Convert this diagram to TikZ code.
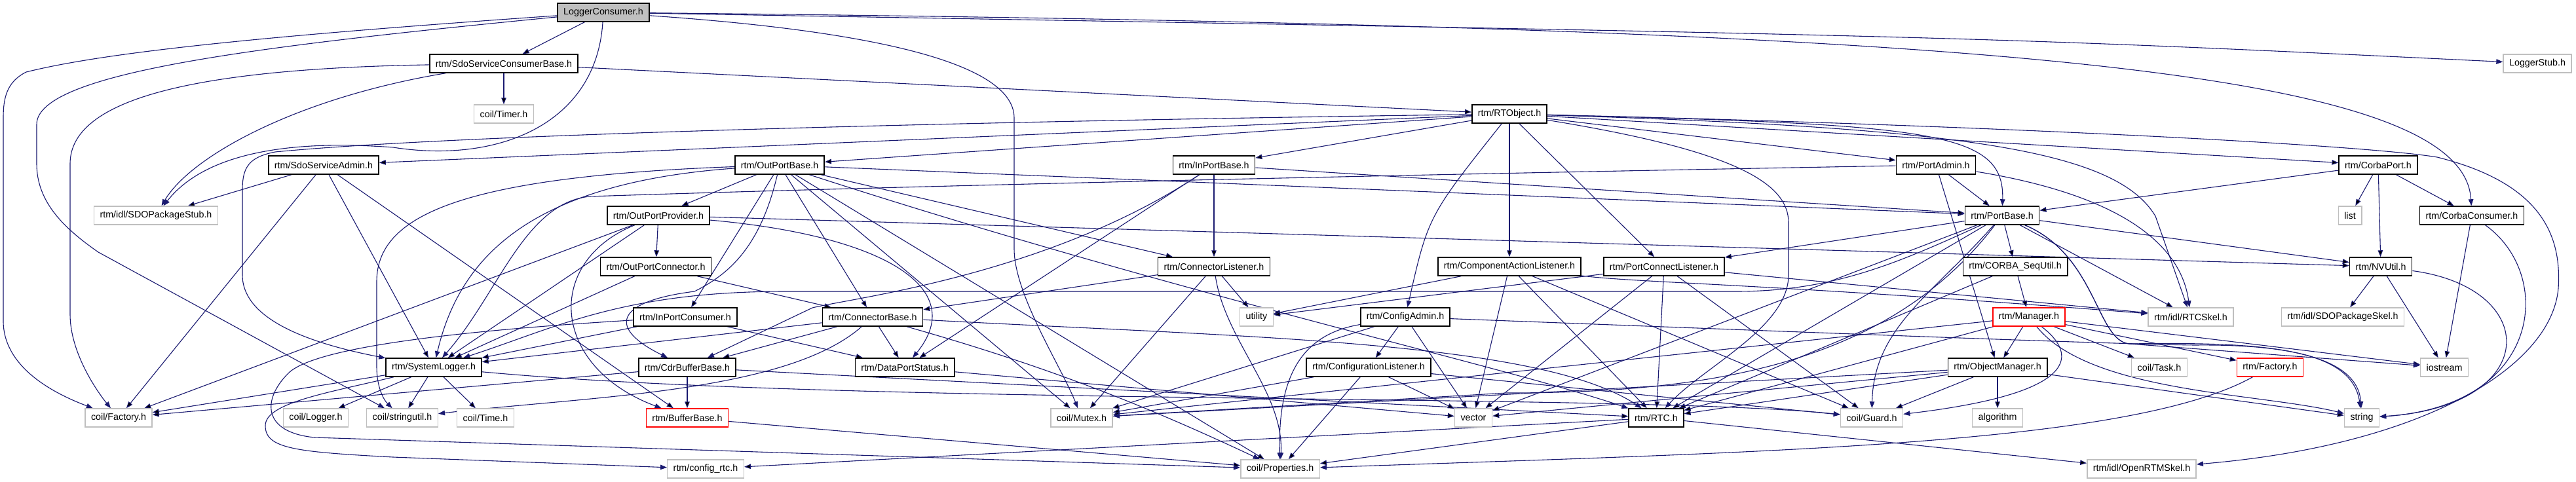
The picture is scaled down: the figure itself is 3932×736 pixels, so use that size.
\documentclass[tikz,border=0pt]{standalone}
\usepackage{fontspec}
\setmainfont{Liberation Sans}
\usetikzlibrary{arrows.meta}

\definecolor{depblue}{RGB}{25,25,112}
\definecolor{extgray}{RGB}{191,191,191}

\pgfdeclarelayer{edges}
\pgfsetlayers{edges,main}

\tikzset{
    header/.style={draw=black, line width=1.5pt, fill=white, minimum height=28pt,
        inner xsep=9pt, inner ysep=0pt, font=\fontsize{14.3}{17}\selectfont},
    external/.style={header, draw=extgray},
    undoc/.style={header, draw=red},
    root/.style={header, fill=extgray},
    dep/.style={draw=depblue, line width=1.1pt, -{Triangle[length=10pt,width=7.5pt]}},
}

\begin{document}
\begin{tikzpicture}[x=1pt, y=1pt]
    \useasboundingbox (0,0) rectangle (3932,-736);

    \node[root] (lc) at (921,-19) {LoggerConsumer.h};
    \node[header] (sscb) at (769,-97) {rtm/SdoServiceConsumerBase.h};
    \node[external] (lstub) at (3873,-97) {LoggerStub.h};
    \node[external] (timer) at (769,-174) {coil/Timer.h};
    \node[header] (rto) at (2304,-174) {rtm/RTObject.h};
    \node[header] (ssa) at (494,-252) {rtm/SdoServiceAdmin.h};
    \node[header] (opb) at (1190,-252) {rtm/OutPortBase.h};
    \node[header] (ipb) at (1853,-252) {rtm/InPortBase.h};
    \node[header] (padm) at (2955,-252) {rtm/PortAdmin.h};
    \node[header] (cport) at (3630,-252) {rtm/CorbaPort.h};
    \node[external] (sdostub) at (238,-329) {rtm/idl/SDOPackageStub.h};
    \node[header] (opp) at (1005,-329) {rtm/OutPortProvider.h};
    \node[header] (pbase) at (3056,-329) {rtm/PortBase.h};
    \node[external] (list) at (3587,-329) {list};
    \node[header] (ccons) at (3773,-329) {rtm/CorbaConsumer.h};
    \node[header] (opc) at (1001,-407) {rtm/OutPortConnector.h};
    \node[header] (cl) at (1853,-407) {rtm/ConnectorListener.h};
    \node[header] (cal) at (2304,-407) {rtm/ComponentActionListener.h};
    \node[header] (pcl) at (2540,-407) {rtm/PortConnectListener.h};
    \node[header] (csu) at (3076,-407) {rtm/CORBA\_SeqUtil.h};
    \node[header] (nvu) at (3634,-407) {rtm/NVUtil.h};
    \node[header] (ipc) at (1046,-484) {rtm/InPortConsumer.h};
    \node[header] (cbase) at (1332,-484) {rtm/ConnectorBase.h};
    \node[external] (util) at (1918,-484) {utility};
    \node[header] (cadm) at (2145,-484) {rtm/ConfigAdmin.h};
    \node[undoc] (mgr) at (3097,-484) {rtm/Manager.h};
    \node[external] (rtcskel) at (3344,-484) {rtm/idl/RTCSkel.h};
    \node[external] (sdoskel) at (3576,-484) {rtm/idl/SDOPackageSkel.h};
    \node[header] (slog) at (662,-561) {rtm/SystemLogger.h};
    \node[header] (cdr) at (1049,-561) {rtm/CdrBufferBase.h};
    \node[header] (dps) at (1381,-561) {rtm/DataPortStatus.h};
    \node[header] (cfl) at (2089,-561) {rtm/ConfigurationListener.h};
    \node[header] (omgr) at (3049,-561) {rtm/ObjectManager.h};
    \node[external] (task) at (3296,-561) {coil/Task.h};
    \node[undoc] (rfac) at (3465,-561) {rtm/Factory.h};
    \node[external] (ios) at (3731,-561) {iostream};
    \node[external] (cfac) at (181,-638) {coil/Factory.h};
    \node[external] (clog) at (482,-638) {coil/Logger.h};
    \node[external] (sutil) at (614,-638) {coil/stringutil.h};
    \node[external] (ctime) at (741,-638) {coil/Time.h};
    \node[undoc] (bbase) at (1049,-638) {rtm/BufferBase.h};
    \node[external] (mutex) at (1651,-638) {coil/Mutex.h};
    \node[external] (vec) at (2249,-638) {vector};
    \node[header] (rtc) at (2528,-638) {rtm/RTC.h};
    \node[external] (guard) at (2857,-638) {coil/Guard.h};
    \node[external] (algo) at (3049,-638) {algorithm};
    \node[external] (str) at (3605,-638) {string};
    \node[external] (crtc) at (1077,-716) {rtm/config\_rtc.h};
    \node[external] (prop) at (1954,-716) {coil/Properties.h};
    \node[external] (orskel) at (3269,-716) {rtm/idl/OpenRTMSkel.h};

    \begin{pgfonlayer}{edges}
    \draw[dep]
        (lc) edge (sscb)
        (sscb) edge (timer)
        (sscb) edge (rto)
        (rto) edge (ssa)
        (rto) edge (opb)
        (rto) edge (ipb)
        (rto) edge (padm)
        (rto) edge (cport)
        (rto) edge (cal)
        (rto) edge (pcl)
        (ssa) edge (sdostub)
        (ssa) edge (cfac)
        (ssa) edge (slog)
        (ssa) edge (bbase)
        (opb) edge (opp)
        (opb) edge (ipc)
        (opb) edge (cbase)
        (opb) edge (cl)
        (opb) edge (pbase)
        (opb) edge (prop)
        (opb) edge (mutex)
        (ipb) edge (pbase)
        (ipb) edge (dps)
        (ipb) edge (cl)
        (padm) edge (pbase)
        (padm) edge (omgr)
        (cport) edge (pbase)
        (cport) edge (list)
        (cport) edge (ccons)
        (cport) edge (nvu)
        (opp) edge (opc)
        (opp) edge (cfac)
        (opp) edge (slog)
        (opp) edge (nvu)
        (opc) edge (slog)
        (opc) edge (cbase)
        (ipc) edge (slog)
        (ipc) edge (dps)
        (cbase) edge (slog)
        (cbase) edge (cdr)
        (cbase) edge (dps)
        (cdr) edge (bbase)
        (cdr) edge (cfac)
        (cdr) edge (rtc)
        (bbase) edge (prop)
        (dps) edge (vec)
        (cl) edge (cbase)
        (cl) edge (mutex)
        (cl) edge (util)
        (cal) edge (util)
        (cal) edge (vec)
        (cal) edge (rtc)
        (cal) edge (guard)
        (pcl) edge (util)
        (pcl) edge (vec)
        (pcl) edge (rtc)
        (pcl) edge (guard)
        (pcl) edge (rtcskel)
        (pbase) edge (pcl)
        (pbase) edge (csu)
        (pbase) edge (nvu)
        (pbase) edge (rtcskel)
        (pbase) edge (rtc)
        (pbase) edge (vec)
        (csu) edge (mgr)
        (csu) edge (rtc)
        (nvu) edge (sdoskel)
        (nvu) edge (ios)
        (ccons) edge (ios)
        (cadm) edge (cfl)
        (cadm) edge (vec)
        (cadm) edge (mutex)
        (cfl) edge (mutex)
        (cfl) edge (prop)
        (cfl) edge (vec)
        (cfl) edge (guard)
        (mgr) edge (omgr)
        (mgr) edge (task)
        (mgr) edge (rfac)
        (mgr) edge (ios)
        (mgr) edge (mutex)
        (mgr) edge (rtc)
        (omgr) edge (mutex)
        (omgr) edge (vec)
        (omgr) edge (rtc)
        (omgr) edge (guard)
        (omgr) edge (algo)
        (omgr) edge (str)
        (slog) edge (clog)
        (slog) edge (sutil)
        (slog) edge (ctime)
        (slog) edge (cfac)
        (rtc) edge (crtc)
        (rtc) edge (prop)
        (rtc) edge (orskel);

    \draw[dep] (lc) .. controls (400,-55) and (160,-80) .. (40,-110) .. controls (10,-125) and (5,-150) .. (5,-180) -- (5,-490) .. controls (5,-560) and (80,-600) .. (cfac);
    \draw[dep] (lc) .. controls (400,-70) and (56,-110) .. (56,-190) -- (56,-250) .. controls (56,-310) and (100,-350) .. (150,-385) -- (sutil);
    \draw[dep] (lc) .. controls (910,-190) and (760,-250) .. (600,-225) .. controls (400,-210) and (300,-250) .. (sdostub);
    \draw[dep] (lc) .. controls (1300,-45) and (1548,-90) .. (1548,-180) -- (1548,-380) .. controls (1548,-450) and (1620,-560) .. (mutex);
    \draw[dep] (lc) .. controls (3000,-55) .. (lstub);
    \draw[dep] (lc) .. controls (3000,-40) and (3760,-100) .. (ccons);
    \draw[dep] (sscb) .. controls (450,-150) and (290,-240) .. (sdostub);
    \draw[dep] (sscb) .. controls (300,-105) and (107,-150) .. (107,-250) -- (107,-480) .. controls (107,-540) and (150,-600) .. (cfac);

    \draw[dep] (rto) .. controls (1500,-185) and (700,-205) .. (420,-232) .. controls (380,-240) and (370,-255) .. (370,-290) -- (370,-420) .. controls (370,-480) and (450,-520) .. (slog);
    \draw[dep] (rto) .. controls (2950,-190) and (3060,-200) .. (pbase);
    \draw[dep] (rto) .. controls (2180,-330) .. (cadm);
    \draw[dep] (rto) .. controls (2650,-230) and (2730,-280) .. (2730,-340) -- (2730,-420) .. controls (2730,-500) and (2600,-560) .. (rtc);
    \draw[dep] (rto) .. controls (3000,-195) and (3230,-230) .. (3290,-330) -- (rtcskel);
    \draw[dep] (rto) .. controls (3000,-190) and (3600,-220) .. (3720,-240) .. controls (3880,-280) and (3910,-360) .. (3905,-440) .. controls (3895,-560) and (3700,-680) .. (orskel);

    \draw[dep] (opb) .. controls (1160,-380) and (1110,-420) .. (1060,-445) .. controls (940,-460) and (925,-500) .. (cdr);
    \draw[dep] (opb) .. controls (800,-280) and (700,-400) .. (slog);
    \draw[dep] (opb) .. controls (1800,-450) and (2300,-560) .. (rtc);
    \draw[dep] (opb) .. controls (700,-270) and (575,-330) .. (575,-430) -- (575,-560) .. controls (575,-590) and (585,-610) .. (sutil);
    \draw[dep] (ipb) .. controls (1600,-420) and (1300,-455) .. (1240,-470) -- (cdr);
    \draw[dep] (padm) .. controls (2400,-262) and (1500,-280) .. (900,-300) .. controls (800,-310) and (760,-450) .. (slog);
    \draw[dep] (padm) .. controls (3250,-300) and (3330,-380) .. (rtcskel);
    \draw[dep] (opp) .. controls (830,-400) and (840,-560) .. (bbase);
    \draw[dep] (opp) .. controls (1350,-360) and (1480,-440) .. (dps);
    \draw[dep] (ipc) .. controls (700,-505) and (480,-530) .. (440,-570) .. controls (400,-610) and (400,-660) .. (480,-668) -- (prop);
    \draw[dep] (slog) .. controls (500,-600) and (405,-615) .. (405,-650) .. controls (405,-685) and (450,-690) .. (600,-698) -- (crtc);
    \draw[dep] (slog) .. controls (1300,-620) and (2500,-600) .. (guard);
    \draw[dep] (cbase) .. controls (1200,-600) and (900,-605) .. (sutil);
    \draw[dep] (cbase) .. controls (1900,-515) and (2350,-520) .. (rtc);
    \draw[dep] (cbase) .. controls (1600,-560) and (1750,-620) .. (prop);
    \draw[dep] (cl) .. controls (1870,-520) and (1960,-600) .. (prop);
    \draw[dep] (cal) .. controls (2500,-432) and (2700,-433) .. (rtcskel);

    \draw[dep] (pbase) .. controls (2900,-400) and (2800,-445) .. (2650,-445) -- (1200,-445) .. controls (950,-445) and (850,-500) .. (slog);
    \draw[dep] (pbase) .. controls (2880,-560) and (2600,-600) .. (2300,-600) -- (mutex);
    \draw[dep] (pbase) .. controls (2950,-450) and (2860,-500) .. (guard);
    \draw[dep] (pbase) .. controls (3200,-390) and (3200,-520) .. (3250,-525) -- (ios);
    \draw[dep] (pbase) .. controls (3200,-390) and (3200,-520) .. (3250,-525) .. controls (3450,-522) and (3590,-530) .. (str);
    \draw[dep] (nvu) .. controls (3880,-440) and (3880,-620) .. (str);
    \draw[dep] (ccons) .. controls (3900,-420) and (3880,-620) .. (str);
    \draw[dep] (cadm) .. controls (2700,-505) and (3200,-525) .. (3350,-527) .. controls (3530,-525) and (3600,-560) .. (str);
    \draw[dep] (cadm) .. controls (1990,-510) and (1950,-570) .. (prop);
    \draw[dep] (mgr) .. controls (3170,-540) and (3180,-600) .. (guard);
    \draw[dep] (mgr) .. controls (3190,-600) and (3450,-600) .. (str);
    \draw[dep] (rfac) .. controls (3250,-680) and (2700,-690) .. (prop);
    \end{pgfonlayer}
\end{tikzpicture}
\end{document}
